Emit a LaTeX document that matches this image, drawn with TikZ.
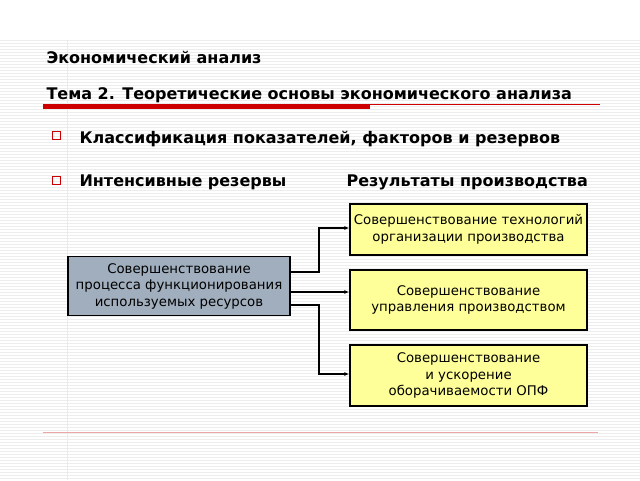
\documentclass[tikz,border=0pt]{standalone}
\usepackage{fontspec}
\setmainfont{DejaVu Sans}
\usetikzlibrary{arrows.meta}
\usetikzlibrary{calc}
\definecolor{slidered}{RGB}{204,0,0}
\definecolor{boxgray}{RGB}{160,174,190}
\definecolor{boxyellow}{RGB}{255,255,153}
\tikzset{
  result/.style={draw=black, line width=1.3pt, fill=boxyellow, minimum width=237pt, align=center, font=\fontsize{13.3}{16.5}\selectfont, inner sep=1pt},
  source/.style={draw=black, line width=1.3pt, fill=boxgray, minimum width=222pt, minimum height=59pt, align=center, font=\fontsize{13.3}{16.5}\selectfont, inner sep=1pt},
  link/.style={black, line width=1.3pt, -{Latex[length=5pt,width=4pt]}},
  bullet/.style={draw=slidered, thick, minimum size=8pt, inner sep=0pt}
}
\begin{document}
\begin{tikzpicture}[x=1pt, y=-1pt]
            \useasboundingbox (0,0) rectangle (640,480);
            \fill[white] (0,0) rectangle (640,480);
            \foreach \yy in {40,43,...,478}
                \draw[black!7, line width=0.6pt] (0,\yy) -- (640,\yy);
            \draw[black!8] (67,40) -- (67,480);
            \node[anchor=west, font=\bfseries\fontsize{16}{19}\selectfont] (course) at (43,57) {Экономический анализ};
            \node[anchor=west, font=\bfseries\fontsize{16}{19}\selectfont] (topic) at (43,95) {Тема 2. Теоретические основы экономического анализа};
            \fill[slidered] (43,104) rectangle (370,108.5);
            \draw[slidered, line width=0.8pt] (370,104.5) -- (600,104.5);
            \node[bullet] (b1) at (56,135) {};
            \node[bullet] (b2) at (56,180) {};
            \node[anchor=west, font=\bfseries\fontsize{16}{19}\selectfont] (item1) at (76,139) {Классификация показателей, факторов и резервов};
            \node[anchor=west, font=\bfseries\fontsize{16}{19}\selectfont] (item2) at (76,182) {Интенсивные резервы};
            \node[anchor=west, font=\bfseries\fontsize{16}{19}\selectfont] (item3) at (343,182) {Результаты производства};

            \node[source] (resources) at (179,286) {Совершенствование\\процесса функционирования\\используемых ресурсов};
            \node[result, minimum height=51pt] (tech) at (468.5,229.5) {Совершенствование технологий\\организации производства};
            \node[result, minimum height=60pt] (mgmt) at (468.5,300) {Совершенствование\\управления производством};
            \node[result, minimum height=61pt] (opf) at (468.5,375.5) {Совершенствование\\и ускорение\\оборачиваемости ОПФ};

            \draw[link] (resources.east |- 0,272) -| (319,228) -- (tech.west |- 0,228);
            \draw[link] (resources.east |- 0,292) -- (mgmt.west |- 0,292);
            \draw[link] (resources.east |- 0,305) -| (319,374) -- (opf.west |- 0,374);

            \draw[slidered!35, line width=1pt] (43,432) -- (598,432);
\end{tikzpicture}
\end{document}
